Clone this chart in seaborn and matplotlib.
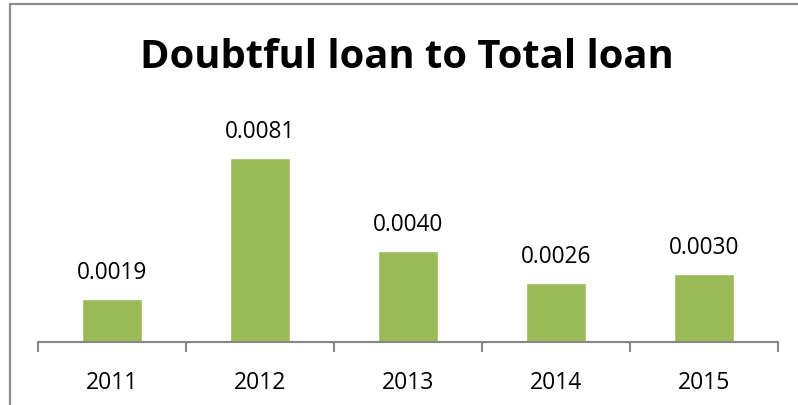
import matplotlib
matplotlib.use("Agg")
import matplotlib.pyplot as plt
from matplotlib.lines import Line2D
import seaborn as sns
import pandas as pd
import numpy as np

years = ["2011", "2012", "2013", "2014", "2015"]
ratios = [0.0019, 0.0081, 0.0040, 0.0026, 0.0030]
labels = ["0.0019", "0.0081", "0.0040", "0.0026", "0.0030"]

sns.set_theme(style="white")
plt.rcParams["font.family"] = ["Open Sans", "DejaVu Sans"]

W, H = 798, 406
fig = plt.figure(figsize=(W / 100, H / 100), dpi=100)
fig.patch.set_facecolor("white")

# plot area in pixel terms
left, right, base, top = 38, 778, 343, 116
ax = fig.add_axes([left / W, (H - base) / H, (right - left) / W, (base - top) / H])

df = pd.DataFrame({"year": years, "ratio": ratios})
sns.barplot(data=df, x="year", y="ratio", color="#9BBB59", width=0.4,
            saturation=1, ax=ax, order=years)

ax.set_xlim(-0.5, len(years) - 0.5)
ax.set_ylim(0, 0.01)
ax.set_xlabel("")
ax.set_ylabel("")
ax.set_yticks([])

for s in ["left", "right", "top"]:
    ax.spines[s].set_visible(False)
ax.spines["bottom"].set_color("#868686")
ax.spines["bottom"].set_linewidth(1.5)

# category labels centred, tick marks on category boundaries
ax.set_xticks(range(len(years)))
ax.set_xticklabels(years, fontsize=16.5, color="black")
ax.tick_params(axis="x", which="major", length=0, pad=20)
ax.set_xticks(np.arange(-0.5, len(years)), minor=True)
ax.tick_params(axis="x", which="minor", length=7, width=1.5, color="#868686",
               direction="out", bottom=True)

for i, (v, lab) in enumerate(zip(ratios, labels)):
    ax.annotate(lab, (i, v), xytext=(0, 11), textcoords="offset points",
                ha="center", va="bottom", fontsize=16.3, color="black")

fig.text(407 / W, 1 - 58 / H, "Doubtful loan to Total loan", ha="center",
         va="center", fontsize=28.8, fontweight="bold", color="black")

# chart frame
fig.add_artist(Line2D([9.5 / W, 9.5 / W], [0, 1 - 4.5 / H], transform=fig.transFigure,
                      color="#8c8c8c", lw=1.6))
fig.add_artist(Line2D([9.5 / W, 1], [1 - 4.5 / H, 1 - 4.5 / H], transform=fig.transFigure,
                      color="#8c8c8c", lw=1.6))

fig.savefig("out.png", dpi=100)
